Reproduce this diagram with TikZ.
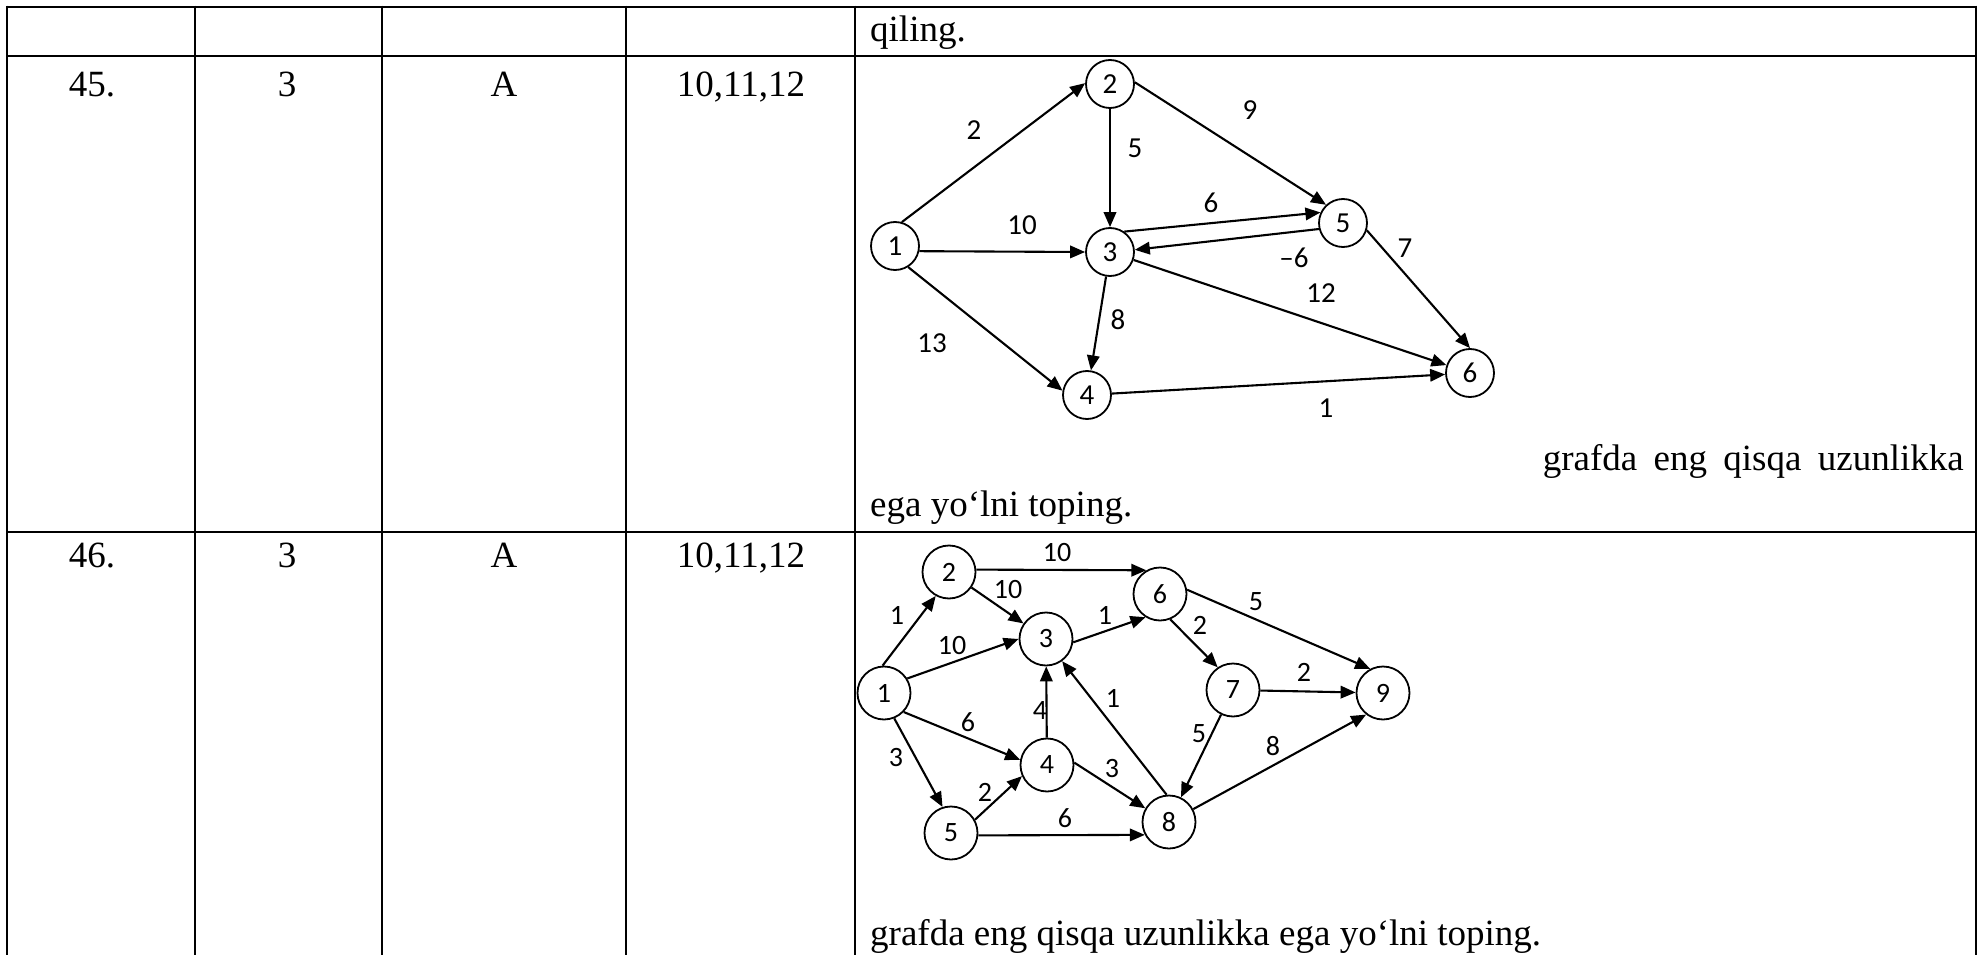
\documentclass[tikz,border=0pt]{standalone}
\usepackage{fontspec}
\setmainfont{Liberation Serif}
\newfontfamily\calibrifont{Carlito}
\usetikzlibrary{arrows.meta}
\tikzset{
  tline/.style={line width=2.6pt},
  ttext/.style={font=\fontsize{37}{44}\selectfont, inner sep=0pt},
  vtx/.style={circle, draw, line width=1.8pt, inner sep=0pt},
  vA/.style={vtx, minimum size=48pt, font=\calibrifont\fontsize{29}{34}\selectfont},
  vB/.style={vtx, minimum size=53pt, font=\calibrifont\fontsize{28}{33}\selectfont},
  edge/.style={line width=2.1pt, -{Triangle[length=15pt,width=12.5pt]}},
  wlabelA/.style={inner sep=0pt, font=\calibrifont\fontsize{29}{34}\selectfont},
  wlabelB/.style={inner sep=0pt, font=\calibrifont\fontsize{28}{33}\selectfont},
}
\begin{document}
\begin{tikzpicture}[x=1pt,y=-1pt]
\useasboundingbox (0,0) rectangle (1982,955);
% table grid
\foreach \xx in {7,195,382,626,855,1976}{
  \draw[tline] (\xx,5.7) -- (\xx,955);
}
\foreach \yy in {7,56,532}{
  \draw[tline] (7,\yy) -- (1976,\yy);
}
% table texts
\node[ttext, anchor=base west] (t0) at (870,42) {qiling.};
\node[ttext, anchor=base] (r1a) at (92,97) {45.};
\node[ttext, anchor=base] (r1b) at (287,97) {3};
\node[ttext, anchor=base] (r1c) at (504,97) {A};
\node[ttext, anchor=base] (r1d) at (741,97) {10,11,12};
\node[ttext, anchor=base east] (t1) at (1964,470) {\makebox[421pt][s]{grafda eng qisqa uzunlikka}};
\node[ttext, anchor=base west] (t2) at (870,516) {ega yo‘lni toping.};
\node[ttext, anchor=base] (r2a) at (92,567) {46.};
\node[ttext, anchor=base] (r2b) at (287,567) {3};
\node[ttext, anchor=base] (r2c) at (504,567) {A};
\node[ttext, anchor=base] (r2d) at (741,567) {10,11,12};
\node[ttext, anchor=base west] (t3) at (870,945) {grafda eng qisqa uzunlikka ega yo‘lni toping.};

% graph 1
\node[vA] (a1) at (895,246) {1};
\node[vA] (a2) at (1110,84) {2};
\node[vA] (a3) at (1110,252) {3};
\node[vA] (a4) at (1087,395) {4};
\node[vA] (a5) at (1343,223) {5};
\node[vA] (a6) at (1470,373) {6};
\draw[edge] (a1.74) -- (a2.178);
\draw[edge] (a2) -- (a3);
\draw[edge] (a2.4) -- (a5.133);
\draw[edge] (a1.-12) -- (a3.180);
\draw[edge] (a3.55) -- (a5.155);
\draw[edge] (a5.194) -- (a3.5);
\draw[edge] (a1.-58) -- (a4.170);
\draw[edge] (a3) -- (a4);
\draw[edge] (a3) -- (a6);
\draw[edge] (a4) -- (a6);
\draw[edge] (a5.-17) -- (a6.90);
\node[wlabelA] (la12) at (974,130) {2};
\node[wlabelA] (la23) at (1135,148) {5};
\node[wlabelA] (la25) at (1250,110) {9};
\node[wlabelA] (la35) at (1211,203) {6};
\node[wlabelA] (la53) at (1294,258) {–6};
\node[wlabelA] (la13) at (1022,225) {10};
\node[wlabelA] (la56) at (1405,248) {7};
\node[wlabelA] (la36) at (1321,293) {12};
\node[wlabelA] (la34) at (1118,320) {8};
\node[wlabelA] (la14) at (932,343) {13};
\node[wlabelA] (la46) at (1326,408) {1};

% graph 2
\node[vB] (b1) at (884,693) {1};
\node[vB] (b2) at (949,572) {2};
\node[vB] (b3) at (1046,639) {3};
\node[vB] (b4) at (1047,765) {4};
\node[vB] (b5) at (951,833) {5};
\node[vB] (b6) at (1160,594) {6};
\node[vB] (b7) at (1233,690) {7};
\node[vB] (b8) at (1169,822) {8};
\node[vB] (b9) at (1383,693) {9};
\draw[edge] (b1.93) -- (b2.241);
\draw[edge] (b1.32) -- (b3.180);
\draw[edge] (b1.-44) -- (b4.169);
\draw[edge] (b1.-68) -- (b5.108);
\draw[edge] (b2.5) -- (b6.120);
\draw[edge] (b2) -- (b3);
\draw[edge] (b3.-7) -- (b6.238);
\draw[edge] (b4) -- (b3);
\draw[edge] (b5.29) -- (b4.204);
\draw[edge] (b5.-5) -- (b8.208);
\draw[edge] (b4.5) -- (b8.150);
\draw[edge] (b8.95) -- (b3.-54);
\draw[edge] (b6.-68) -- (b7.124);
\draw[edge] (b6.9) -- (b9.118);
\draw[edge] (b7) -- (b9);
\draw[edge] (b7) -- (b8);
\draw[edge] (b8.28) -- (b9.232);
\node[wlabelB] (lb12) at (897,615) {1};
\node[wlabelB] (lb13) at (952,646) {10};
\node[wlabelB] (lb14) at (968,722) {6};
\node[wlabelB] (lb15) at (896,758) {3};
\node[wlabelB] (lb26) at (1057,553) {10};
\node[wlabelB] (lb23) at (1008,590) {10};
\node[wlabelB] (lb36) at (1105,615) {1};
\node[wlabelB] (lb43) at (1040,711) {4};
\node[wlabelB] (lb54) at (985,792) {2};
\node[wlabelB] (lb58) at (1065,818) {6};
\node[wlabelB] (lb48) at (1112,769) {3};
\node[wlabelB] (lb83) at (1113,698) {1};
\node[wlabelB] (lb67) at (1200,625) {2};
\node[wlabelB] (lb69) at (1256,602) {5};
\node[wlabelB] (lb79) at (1304,672) {2};
\node[wlabelB] (lb78) at (1199,734) {5};
\node[wlabelB] (lb89) at (1273,746) {8};
\end{tikzpicture}
\end{document}
